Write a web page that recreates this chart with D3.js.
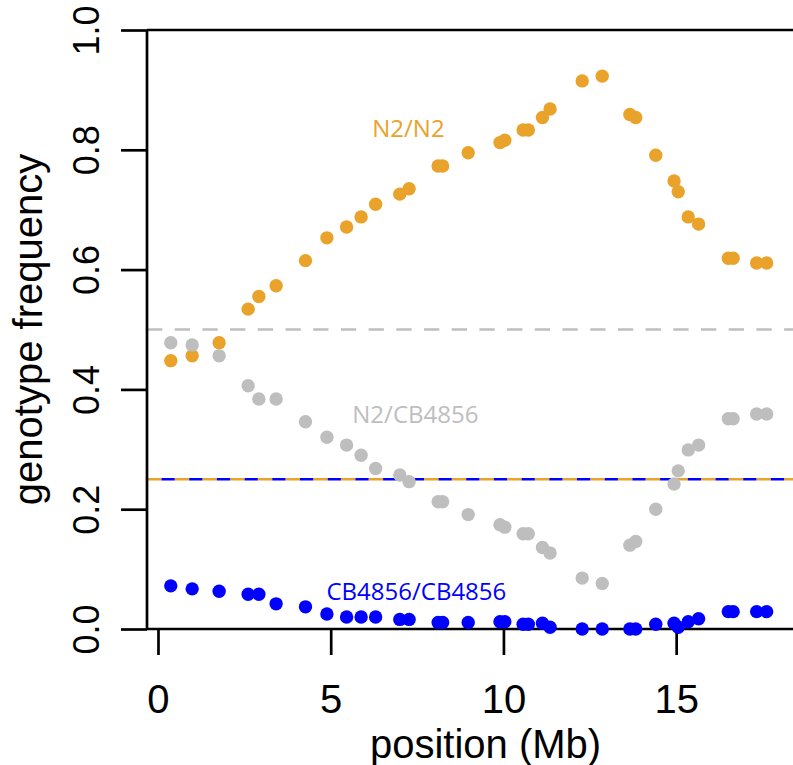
<!DOCTYPE html>
<html>
<head>
<meta charset="utf-8">
<script src="https://cdn.jsdelivr.net/npm/d3@7"></script>
<style>
  html, body { margin: 0; padding: 0; background: #fff; }
  svg { display: block; }
</style>
</head>
<body>
<svg id="chart" width="793" height="765"></svg>
<script>
// ---- data ----
const positions = [0.37, 0.99, 1.77, 2.61, 2.92, 3.42, 4.27, 4.89, 5.46, 5.88, 6.30, 7.00, 7.27,
  8.11, 8.24, 8.98, 9.90, 10.04, 10.57, 10.72, 11.13, 11.35, 12.28, 12.86, 13.66, 13.83,
  14.41, 14.94, 15.06, 15.35, 15.65, 16.51, 16.65, 17.33, 17.62];
const n2n2 = [0.448, 0.456, 0.478, 0.534, 0.555, 0.573, 0.615, 0.653, 0.671, 0.688, 0.709, 0.726, 0.735,
  0.773, 0.773, 0.795, 0.812, 0.816, 0.833, 0.833, 0.854, 0.868, 0.915, 0.923, 0.859, 0.854,
  0.791, 0.748, 0.730, 0.688, 0.676, 0.619, 0.619, 0.611, 0.611];
const n2cb = [0.478, 0.474, 0.456, 0.406, 0.384, 0.384, 0.346, 0.320, 0.307, 0.290, 0.268, 0.257, 0.246,
  0.2125, 0.2125, 0.191, 0.174, 0.170, 0.159, 0.159, 0.136, 0.127, 0.085, 0.076, 0.140, 0.146,
  0.200, 0.242, 0.264, 0.299, 0.307, 0.351, 0.351, 0.359, 0.359];
const cbcb = [0.072, 0.067, 0.063, 0.058, 0.058, 0.042, 0.037, 0.025, 0.020, 0.020, 0.020, 0.016, 0.016,
  0.011, 0.011, 0.011, 0.012, 0.012, 0.008, 0.008, 0.0095, 0.003, 0.0, 0.0, 0.0, 0.0,
  0.008, 0.0095, 0.003, 0.012, 0.017, 0.029, 0.029, 0.029, 0.029];
const seriesNames = ["N2/N2", "N2/CB4856", "CB4856/CB4856"];
const expected = [0.25, 0.5, 0.25];
const labelPos = [[7.25, 0.836], [7.45, 0.359], [7.48, 0.063]];
const xTicks = [0, 5, 10, 15];
const yTicks = [0, 0.2, 0.4, 0.6, 0.8, 1.0];
const yTickLabels = ["0.0", "0.2", "0.4", "0.6", "0.8", "1.0"];
const xTitle = "position (Mb)";
const yTitle = "genotype frequency";

(function () {
// ---- styles ----
const colors = ["#E9A22A", "#BEBEBE", "#0000FF"];
const axisFont = "'Liberation Sans', Arial, Helvetica, sans-serif";
const labelFont = "'Open Sans', 'Noto Sans', sans-serif";

const svg = d3.select("#chart");
const pL = 147, pT = 30, pB = 629, pR = 824;
const x = d3.scaleLinear().domain([-0.318, 19.28]).range([pL, pR]);
const y = d3.scaleLinear().domain([0, 1]).range([pB, pT]);

// reference lines
const g = svg.append("g");
g.append("line").attr("x1", pL).attr("x2", pR)
  .attr("y1", y(expected[1])).attr("y2", y(expected[1]))
  .attr("stroke", colors[1]).attr("stroke-width", 2.3)
  .attr("stroke-dasharray", "15.3,12.4");
g.append("line").attr("x1", pL).attr("x2", pR)
  .attr("y1", y(expected[0])).attr("y2", y(expected[0]))
  .attr("stroke", colors[0]).attr("stroke-width", 2.6)
  .attr("stroke-dasharray", "14.5,13.2");
g.append("line").attr("x1", pL).attr("x2", pR)
  .attr("y1", y(expected[2])).attr("y2", y(expected[2]))
  .attr("stroke", colors[2]).attr("stroke-width", 2.6)
  .attr("stroke-dasharray", "13.2,14.5").attr("stroke-dashoffset", 13.2);

// axes / box
const axG = svg.append("g").attr("stroke", "#000").attr("stroke-width", 2.7).attr("fill", "none");
axG.append("line").attr("x1", pL).attr("x2", pR).attr("y1", pT).attr("y2", pT);
axG.append("line").attr("x1", pL).attr("x2", pR).attr("y1", pB).attr("y2", pB);
axG.append("line").attr("x1", pL).attr("x2", pL).attr("y1", pT).attr("y2", pB);

const xAxis = d3.axisBottom(x).tickValues(xTicks).tickSize(26).tickPadding(30).tickFormat(d3.format("d"));
const xg = svg.append("g").attr("transform", `translate(0,${pB})`).call(xAxis);
xg.select(".domain").remove();
xg.selectAll(".tick line").attr("stroke", "#000").attr("stroke-width", 2.7);
xg.selectAll(".tick text").attr("font-family", axisFont).attr("font-size", 40).attr("fill", "#000");

const yAxis = d3.axisLeft(y).tickValues(yTicks).tickSize(26).tickFormat((d, i) => yTickLabels[i]);
const yg = svg.append("g").attr("transform", `translate(${pL},0)`).call(yAxis);
yg.select(".domain").remove();
yg.selectAll(".tick line").attr("stroke", "#000").attr("stroke-width", 2.7);
yg.selectAll(".tick text")
  .attr("font-family", axisFont).attr("font-size", 36).attr("fill", "#000")
  .attr("x", null).attr("dy", null)
  .attr("text-anchor", "middle")
  .attr("transform", "translate(-48,0) rotate(-90)");

// titles
svg.append("text").attr("x", (pL + pR) / 2).attr("y", 758)
  .attr("text-anchor", "middle").attr("font-family", axisFont).attr("font-size", 40)
  .text(xTitle);
svg.append("text").attr("transform", `translate(42,${(pT + pB) / 2}) rotate(-90)`)
  .attr("text-anchor", "middle").attr("font-family", axisFont).attr("font-size", 40)
  .text(yTitle);

// points
const allSeries = [n2n2, n2cb, cbcb];
const pts = svg.append("g");
allSeries.forEach((vals, si) => {
  pts.selectAll(null).data(vals).enter().append("circle")
    .attr("cx", (d, i) => x(positions[i]))
    .attr("cy", d => y(d))
    .attr("r", 6.7)
    .attr("fill", colors[si]);
});

// series labels
seriesNames.forEach((name, si) => {
  svg.append("text")
    .attr("x", x(labelPos[si][0])).attr("y", y(labelPos[si][1]))
    .attr("dy", "0.36em")
    .attr("text-anchor", "middle").attr("font-family", labelFont).attr("font-size", 24)
    .attr("fill", colors[si]).text(name);
});
})();
</script>
</body>
</html>
